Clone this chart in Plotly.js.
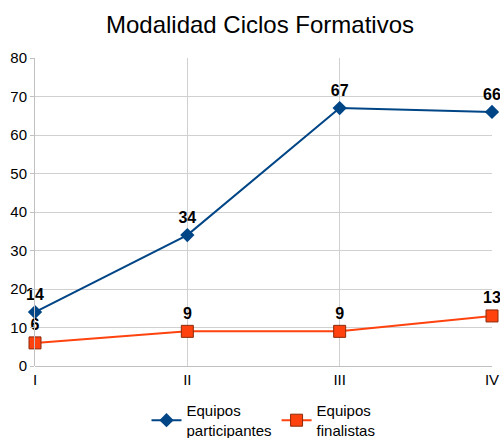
<!DOCTYPE html>
<html><head><meta charset="utf-8">
<script src="https://cdn.plot.ly/plotly-3.0.1.min.js"></script>
<style>body{margin:0;background:#fff}#c{width:500px;height:438px}</style>
</head><body><div id="c"></div>
<script>
const categories = ["I", "II", "III", "IV"];
const participantes = [14, 34, 67, 66];
const finalistas = [6, 9, 9, 13];
const seriesNames = ["Equipos<br>participantes", "Equipos<br>finalistas"];

const data = [
  {x: categories, y: participantes, name: seriesNames[0], type: "scatter", mode: "lines+markers+text",
   text: participantes.map(String), textposition: "top center",
   textfont: {family: "Liberation Sans, Arial", size: 16, color: "#000", weight: "bold"},
   line: {color: "#004586", width: 2}, marker: {symbol: "diamond", size: 11, color: "#004586"}, cliponaxis: false},
  {x: categories, y: finalistas, name: seriesNames[1], type: "scatter", mode: "lines+markers+text",
   text: finalistas.map(String), textposition: "top center",
   textfont: {family: "Liberation Sans, Arial", size: 16, color: "#000", weight: "bold"},
   line: {color: "#ff420e", width: 2}, marker: {symbol: "square", size: 12, color: "#ff420e", line: {color: "#8b2a0a", width: 1}}, cliponaxis: false}
];
const layout = {
  width: 500, height: 438,
  margin: {l: 35, r: 8, t: 58, b: 72},
  paper_bgcolor: "#fff", plot_bgcolor: "#fff",
  font: {family: "Liberation Sans, Arial", color: "#000", size: 15},
  title: {text: "Modalidad Ciclos Formativos", font: {size: 24, color: "#000"}, x: 0.52, xanchor: "center", y: 0.943, yanchor: "middle"},
  showlegend: true,
  legend: {orientation: "h", x: 0.5, xanchor: "center", yref: "container", y: 0.1, yanchor: "top", font: {size: 15}, tracegroupgap: 0},
  xaxis: {type: "category", range: [0, 3], showgrid: true, gridcolor: "#d0d0d0", zeroline: false,
          showline: false, ticks: "outside", ticklen: 0, tickfont: {size: 15}},
  yaxis: {range: [0, 80], dtick: 10, showgrid: true, gridcolor: "#d0d0d0", zeroline: true, zerolinecolor: "#c0c0c0",
          showline: true, linecolor: "#c0c0c0", ticks: "outside", ticklen: 4, tickcolor: "#c0c0c0", tickfont: {size: 15}}
};
Plotly.newPlot("c", data, layout, {displayModeBar: false});
</script></body></html>
